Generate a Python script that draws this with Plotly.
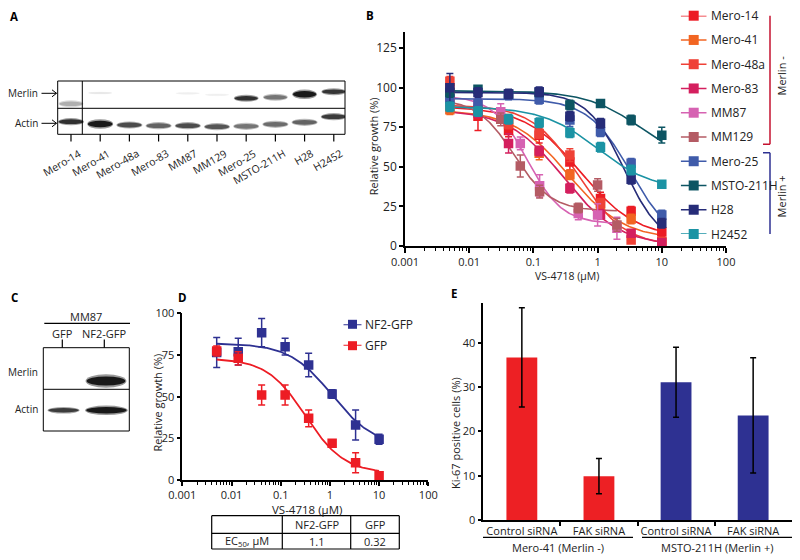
import numpy as np
import plotly.graph_objects as go

FONT = "Open Sans"

# ---------------- Panel A : western blot ----------------
lanes_A = ['Mero-14', 'Mero-41', 'Mero-48a', 'Mero-83', 'MM87', 'MM129',
           'Mero-25', 'MSTO-211H', 'H28', 'H2452']
merlin_A = [0.35, 0.10, 0.0, 0.0, 0.07, 0.07, 0.9, 0.6, 1.0, 0.88]   # band darkness
actin_A = [0.9, 1.0, 0.78, 0.68, 0.78, 0.74, 0.6, 0.64, 0.68, 0.86]
merlin_A_ypos = [30.5, 41.3, 41, 41, 41, 39.5, 36, 37, 40, 42.6]       # style: band position
actin_A_ypos = [12.6, 10.3, 9.3, 8.6, 8.6, 7.6, 8.0, 10.0, 12.0, 17.6]

# ---------------- Panel B : dose response ----------------
series_B = ['Mero-14', 'Mero-41', 'Mero-48a', 'Mero-83', 'MM87', 'MM129',
            'Mero-25', 'MSTO-211H', 'H28', 'H2452']
colors_B = ['#EC1C24', '#F26522', '#EF4136', '#D41F5E', '#D662B2', '#B45B64',
            '#3F5BAA', '#0D5563', '#262C78', '#1B93A4']
conc_B = [0.005, 0.0137, 0.041, 0.123, 0.37, 1.11, 3.33, 10]
conc_MM = [0.005, 0.0137, 0.031, 0.0625, 0.125, 0.5, 1.0, 2.0]
growth_B = [
    [100, 82, 73, 70, 53, 30, 22, 9],        # Mero-14
    [86, 86, 79, 58.5, 45, 24, 17, 2.7],     # Mero-41
    [104, 86, 77, 71, 57.4, 27, 3.8, 3],     # Mero-48a
    [95, 84, 64.8, 60, 36.4, 20, 8, 2],      # Mero-83
    [93, 90, 84.8, 64.8, 38, 20.5, 19.6, 11.2],  # MM87
    [91, 86, 80, 50.5, 34.3, 24, 38.5, 13.3],    # MM129
    [93, 90, 95.3, 92.6, 79.5, 72.2, 52.2, 19.6],  # Mero-25
    [97, 99, 96, 97, 89, 90, 79.5, 70],      # MSTO-211H
    [100, 97, 96, 97.4, 82, 77.5, 42.1, 14.3],  # H28
    [88, 85, 80, 77.9, 71.5, 62.3, 48, 39],  # H2452
]
err_B = [
    [6, 9, 4, 5, 5, 4, 3, 3],
    [3, 3, 4, 4, 3, 3, 3, 2],
    [3, 3, 3, 3, 4, 3, 2, 2],
    [3, 3, 6, 3, 3, 3, 2, 2],
    [3, 3, 5, 4, 7, 4, 7, 7],
    [3, 3, 4, 7, 4, 3, 4, 4],
    [3, 3, 3, 3, 4, 3, 3, 3],
    [3, 2, 2, 2, 3, 2, 3, 5],
    [9, 3, 3, 3, 3, 3, 3, 3],
    [3, 3, 3, 3, 3, 3, 3, 2],
]
fit_top_B = [88, 86, 89, 86, 95, 93, 93, 98, 97, 88]
fit_bottom_B = [5, 4, 0, 0, 14, 22, 0, 50, 0, 35]
fit_ec50_B = [0.55, 0.35, 0.5, 0.3, 0.08, 0.05, 3.3, 5.0, 2.6, 1.0]
fit_hill_B = [1.0, 1.0, 1.2, 1.0, 1.6, 1.5, 1.3, 1.0, 1.5, 1.0]
group_B = ['Merlin -', 'Merlin +']

# ---------------- Panel C : western blot ----------------
lanes_C = ['GFP', 'NF2-GFP']
merlin_C = [0.0, 1.0]
actin_C = [0.85, 1.0]

# ---------------- Panel D : dose response ----------------
series_D = ['NF2-GFP', 'GFP']
colors_D = ['#2E3192', '#ED1C24']
conc_D = [0.005, 0.0137, 0.041, 0.123, 0.37, 1.11, 3.33, 10]
growth_D = [
    [76.5, 77, 88.4, 80, 69, 51.6, 33, 24.4],
    [77.4, 73, 51, 51, 37, 22, 10.4, 2.6],
]
err_D = [
    [9, 8, 8.5, 5, 7, 2.5, 9, 3],
    [3, 4, 6, 6, 5, 2, 6, 2],
]
fit_top_D = [82, 73]
fit_bottom_D = [20, 4]
ec50_D = [1.1, 0.32]
fit_hill_D = [1.0, 1.1]

# ---------------- Panel E : bars ----------------
labels_E = ['Control siRNA', 'FAK siRNA', 'Control siRNA', 'FAK siRNA']
groups_E = ['Mero-41 (Merlin -)', 'MSTO-211H (Merlin +)']
ki67_E = [36.7, 9.9, 31.1, 23.6]
ki67_err_E = [11.2, 4.0, 7.9, 13.0]
colors_E = ['#ED2024', '#ED2024', '#2E3192', '#2E3192']

# page body offset (browser default margin)
OFF = 8.0


def px(x):
    return (x - OFF) / 800.0


def py(y):
    return 1 - (y - OFF) / 560.0


def logistic(x, top, bottom, ec50, hill):
    x = np.asarray(x, dtype=float)
    return bottom + (top - bottom) / (1 + (x / ec50) ** hill)


fig = go.Figure()
shapes = []
annos = []
TXT = '#222'


def txt(x, y, text, size=11, xa='center', ya='middle', angle=0, xref='paper', yref='paper',
        bold=False, **kw):
    d = dict(x=x, y=y, xref=xref, yref=yref, text=('<b>%s</b>' % text) if bold else text,
             showarrow=False, xanchor=xa, yanchor=ya, textangle=angle,
             font=dict(size=size, family=FONT, color='black' if bold else TXT))
    d.update(kw)
    annos.append(d)


def pline(x0, y0, x1, y1, color='black', width=1.0, xref='paper', yref='paper'):
    shapes.append(dict(type='line', xref=xref, yref=yref,
                       x0=px(x0) if xref == 'paper' else x0, x1=px(x1) if xref == 'paper' else x1,
                       y0=py(y0) if yref == 'paper' else y0, y1=py(y1) if yref == 'paper' else y1,
                       line=dict(color=color, width=width), layer='above'))


# ---------- Panel B traces ----------
for i, name in enumerate(series_B):
    xc = conc_MM if name in ('MM87', 'MM129') else conc_B
    xe = np.logspace(np.log10(xc[0]), np.log10(xc[-1]), 150)
    fig.add_trace(go.Scatter(
        x=xe, y=logistic(xe, fit_top_B[i], fit_bottom_B[i], fit_ec50_B[i], fit_hill_B[i]),
        mode='lines', line=dict(color=colors_B[i], width=1.6),
        xaxis='x', yaxis='y', showlegend=False, hoverinfo='skip'))
for i, name in enumerate(series_B):
    xc = conc_MM if name in ('MM87', 'MM129') else conc_B
    fig.add_trace(go.Scatter(
        x=xc, y=growth_B[i], mode='markers', name=name,
        marker=dict(symbol='square', size=9.5, color=colors_B[i], line=dict(width=0)),
        error_y=dict(type='data', array=err_B[i], color=colors_B[i], thickness=1.5, width=3.5),
        xaxis='x', yaxis='y', showlegend=False))

# B legend (manual, on its own axis; index 0 at top)
for i, name in enumerate(series_B):
    fig.add_trace(go.Scatter(
        x=[0, 0.5, 1], y=[i, i, i], mode='lines', line=dict(color=colors_B[i], width=1.6),
        xaxis='x6', yaxis='y6', showlegend=False, hoverinfo='skip', cliponaxis=False))
    fig.add_trace(go.Scatter(
        x=[0.5], y=[i], mode='markers',
        marker=dict(symbol='square', size=10, color=colors_B[i]),
        xaxis='x6', yaxis='y6', showlegend=False, hoverinfo='skip', cliponaxis=False))
    txt(px(709), i, name, size=12, xa='left', yref='y6')

# brackets
br_red = '#C4122F'
br_blue = '#2E3192'
for (y0, y1, col) in [(-0.3, 5.3, br_red), (5.65, 9.25, br_blue)]:
    pline(770, y0, 770, y1, color=col, width=1.5, yref='y6')
    for yy in (y0, y1):
        pline(763, yy, 770, yy, color=col, width=1.5, yref='y6')
txt(px(781), (-0.37 + 5.3) / 2, group_B[0], size=11, angle=-90, yref='y6')
txt(px(781), (5.65 + 9.25) / 2, group_B[1], size=11, angle=-90, yref='y6')

# ---------- Panel D traces ----------
for i, name in enumerate(series_D):
    xe = np.logspace(np.log10(conc_D[0]), np.log10(conc_D[-1]), 150)
    fig.add_trace(go.Scatter(
        x=xe, y=logistic(xe, fit_top_D[i], fit_bottom_D[i], ec50_D[i], fit_hill_D[i]),
        mode='lines', line=dict(color=colors_D[i], width=1.8),
        xaxis='x2', yaxis='y2', showlegend=False, hoverinfo='skip'))
    fig.add_trace(go.Scatter(
        x=conc_D, y=growth_D[i], mode='markers', name=name,
        marker=dict(symbol='square', size=9.5, color=colors_D[i]),
        error_y=dict(type='data', array=err_D[i], color=colors_D[i], thickness=1.5, width=3.5),
        xaxis='x2', yaxis='y2', showlegend=False))
    # manual legend
    fig.add_trace(go.Scatter(
        x=[0, 0.5, 1], y=[i, i, i], mode='lines', line=dict(color=colors_D[i], width=1.8),
        xaxis='x7', yaxis='y7', showlegend=False, hoverinfo='skip', cliponaxis=False))
    fig.add_trace(go.Scatter(
        x=[0.5], y=[i], mode='markers', marker=dict(symbol='square', size=9, color=colors_D[i]),
        xaxis='x7', yaxis='y7', showlegend=False, hoverinfo='skip', cliponaxis=False))
    txt(px(363), i, name, size=12, xa='left', yref='y7')

# EC50 table
tx0, tx1, tx2, tx3 = 211.7, 282.3, 350.7, 399.3
ty0, ty1, ty2 = 515.7, 533.3, 549.0
for yy in (ty0, ty1, ty2):
    pline(tx0, yy, tx3, yy, width=1.2)
for xx in (tx0, tx1, tx2, tx3):
    pline(xx, ty0, xx, ty2, width=1.2)
for j, name in enumerate(series_D):
    cx = [(tx1 + tx2) / 2, (tx2 + tx3) / 2][j]
    txt(px(cx), py((ty0 + ty1) / 2), name, size=11)
    txt(px(cx), py((ty1 + ty2) / 2), str(ec50_D[j]), size=11)
txt(px((tx0 + tx1) / 2), py((ty1 + ty2) / 2), 'EC<sub>50</sub>, μM', size=11)

# ---------- Panel E ----------
fig.add_trace(go.Bar(
    x=list(range(len(labels_E))), y=ki67_E, width=0.4, marker=dict(color=colors_E, line=dict(width=0)),
    error_y=dict(type='data', array=ki67_err_E, color='black', thickness=1.5, width=3),
    xaxis='x3', yaxis='y3', showlegend=False))
for (x0, x1, g) in [(483, 633, groups_E[0]), (642, 792, groups_E[1])]:
    pline(x0, 537.3, x1, 537.3, width=1.2)
    txt(px((x0 + x1) / 2), py(547.5), g, size=11)


# ---------- Blots ----------
def band(xref, yref, xc, yc, hw, hh, dark):
    if dark <= 0:
        return
    g_in = int(round(255 * (1 - 0.9 * dark)))
    g_out = int(round(255 * (1 - 0.4 * dark)))
    shapes.append(dict(type='circle', xref=xref, yref=yref, x0=xc - hw * 1.06, x1=xc + hw * 1.06,
                       y0=yc - hh * 1.5, y1=yc + hh * 1.5, line=dict(width=0),
                       fillcolor='rgb(%d,%d,%d)' % (g_out, g_out, g_out), layer='above'))
    shapes.append(dict(type='circle', xref=xref, yref=yref, x0=xc - hw, x1=xc + hw,
                       y0=yc - hh, y1=yc + hh, line=dict(width=0),
                       fillcolor='rgb(%d,%d,%d)' % (g_in, g_in, g_in), layer='above'))


for i in range(len(lanes_A)):
    hm = 3.2 if lanes_A[i] == 'H28' else 2.3
    band('x4', 'y4', i, merlin_A_ypos[i], 0.4, hm if merlin_A[i] > 0.3 else 0.9, merlin_A[i])
    band('x4', 'y4', i, actin_A_ypos[i], 0.42, 2.4 if lanes_A[i] != 'Mero-41' else 3.2, actin_A[i])

# A frame
ax0, ax1, ay0, aym, ay1 = 57.7, 345.0, 81.0, 108.3, 134.3
for (x0, y0, x1, y1) in [(ax0, ay0, ax1, ay0), (ax0, aym, ax1, aym), (ax0, ay1, ax1, ay1),
                         (ax0, ay0, ax0, ay1), (ax1, ay0, ax1, ay1), (82.3, ay0, 82.3, ay1)]:
    pline(x0, y0, x1, y1)
for i, name in enumerate(lanes_A):
    shapes.append(dict(type='line', xref='x4', yref='paper', x0=i, x1=i, y0=py(134.3), y1=py(141.5),
                       line=dict(color='black', width=1.2)))
    txt(i, py(143.5), name, size=10.5, xa='right', ya='top', angle=-30, xref='x4', xshift=14.5)


def arrow_label(text, ymid, xr=40.0, xa0=41.5, xa1=56.5):
    txt(px(xr), py(ymid), text, size=10, xa='right')
    if xa1 is not None:
        pline(xa0, ymid, xa1, ymid)
        for dy in (-3.5, 3.5):
            pline(xa1 - 4.5, ymid + dy, xa1, ymid)


arrow_label('Merlin', 93.3)
arrow_label('Actin', 123.3)

# C blot
band('x5', 'y5', 1.04, 50.0, 0.46, 4.5, merlin_C[1])
band('x5', 'y5', 0.03, 20.7, 0.36, 2.2, actin_C[0])
band('x5', 'y5', 1.05, 20.7, 0.48, 3.2, actin_C[1])
cx0, cx1, cy0, cym, cy1 = 43.3, 129.3, 347.7, 389.3, 431.0
for (x0, y0, x1, y1) in [(cx0, cy0, cx1, cy0), (cx0, cym, cx1, cym), (cx0, cy1, cx1, cy1),
                         (cx0, cy0, cx0, cy1), (cx1, cy0, cx1, cy1)]:
    pline(x0, y0, x1, y1)
pline(44.3, 323.3, 130, 323.3, width=1.2)
txt(px(86), py(316.3), 'MM87', size=11)
for i, name in enumerate(lanes_C):
    txt(i, py(333.3), name, size=11, xref='x5')
    shapes.append(dict(type='line', xref='x5', yref='paper', x0=i, x1=i, y0=py(339.5), y1=py(347.7),
                       line=dict(color='black', width=1.2)))
arrow_label('Merlin', 372.3, xa1=None)
arrow_label('Actin', 409.0, xa1=None)

# panel letters
for (t, x, y) in [('A', 14, 17), ('B', 370, 16), ('C', 14, 297), ('D', 182, 297), ('E', 453.5, 293)]:
    txt(px(x), py(y), t, size=11.5, bold=True)

# axis titles
txt(px(373.5), py(146.7), 'Relative growth (%)', size=11, angle=-90)
txt(px(567), py(276), 'VS-4718 (μM)', size=10.5)
txt(px(157), py(402.5), 'Relative growth (%)', size=11, angle=-90)
txt(px(306.7), py(509.5), 'VS-4718 (μM)', size=11.5)
txt(px(455.5), py(432.5), 'Ki-67 positive cells (%)', size=11, angle=-90)

decades = [0.001, 0.01, 0.1, 1, 10, 100]
dec_text = ['0.001', '0.01', '0.1', '1', '10', '100']
minor_vals = [m * d for d in decades[:-1] for m in range(2, 10)]

axline = dict(showline=True, linecolor='black', linewidth=1.5, ticks='outside', tickcolor='black',
              tickwidth=1.5, showgrid=False, zeroline=False, automargin=False, autorange=False)


def logx(domain, anchor, size, tlen):
    d = dict(type='log', range=[-3, 2], domain=domain, anchor=anchor, tickmode='array',
             tickvals=decades, ticktext=dec_text, ticklen=tlen,
             tickfont=dict(size=size, family=FONT, color=TXT),
             minor=dict(ticks='outside', tickvals=minor_vals, ticklen=3, tickwidth=1, tickcolor='black'))
    d.update(axline)
    return d


hidden = dict(visible=False, automargin=False, autorange=False)
layout = dict(
    width=800, height=560, margin=dict(l=0, r=0, t=0, b=0, pad=0, autoexpand=False),
    paper_bgcolor='white', plot_bgcolor='rgba(0,0,0,0)', showlegend=False,
    font=dict(family=FONT, color=TXT),
    xaxis=logx([px(405), px(726)], 'y', 11, 5),
    yaxis=dict(range=[0, 135], domain=[py(246), py(32.2)], anchor='x', tickmode='array',
               tickvals=[0, 25, 50, 75, 100, 125], ticklen=4,
               tickfont=dict(size=12, family=FONT, color=TXT), **axline),
    xaxis2=logx([px(182.3), px(428.3)], 'y2', 11, 4),
    yaxis2=dict(range=[0, 100], domain=[py(480), py(313.3)], anchor='x2', tickmode='array',
                tickvals=[0, 25, 50, 75, 100], ticklen=4,
                tickfont=dict(size=11, family=FONT, color=TXT), **axline),
    xaxis3=dict(range=[-0.5, 3.5], domain=[px(483.3), px(791.7)], anchor='y3', tickmode='array',
                tickvals=list(range(len(labels_E))), ticktext=labels_E, automargin=False, autorange=False,
                showline=True, linecolor='black', linewidth=1.5, ticks='', showgrid=False, zeroline=False,
                tickfont=dict(size=11, family=FONT, color=TXT),
                minor=dict(ticks='outside', tickvals=[0.5, 1.5, 2.5], ticklen=4, tickwidth=1.5,
                           tickcolor='black')),
    yaxis3=dict(range=[0, 49], domain=[py(520), py(302.9)], anchor='x3', tickmode='array',
                tickvals=[0, 10, 20, 30, 40], ticklen=4,
                tickfont=dict(size=11, family=FONT, color=TXT), **axline),
    xaxis4=dict(range=[-0.455, 9.384], domain=[px(57.7), px(345)], anchor='y4', **hidden),
    yaxis4=dict(range=[0, 53.3], domain=[py(134.3), py(81)], anchor='x4', **hidden),
    xaxis5=dict(range=[(43.3 - 62.3) / 42, (129.3 - 62.3) / 42], domain=[px(43.3), px(129.3)],
                anchor='y5', **hidden),
    yaxis5=dict(range=[0, 83.3], domain=[py(431), py(347.7)], anchor='x5', **hidden),
    xaxis6=dict(range=[0, 1], domain=[px(680.7), px(706.7)], anchor='y6', **hidden),
    yaxis6=dict(range=[9, 0], domain=[py(234), py(15.7)], anchor='x6', **hidden),
    xaxis7=dict(range=[0, 1], domain=[px(343.3), px(361.7)], anchor='y7', **hidden),
    yaxis7=dict(range=[1, 0], domain=[py(345.7), py(324.3)], anchor='x7', **hidden),
    shapes=shapes, annotations=annos,
)
fig.update_layout(**layout)
fig.write_html("out.html")
